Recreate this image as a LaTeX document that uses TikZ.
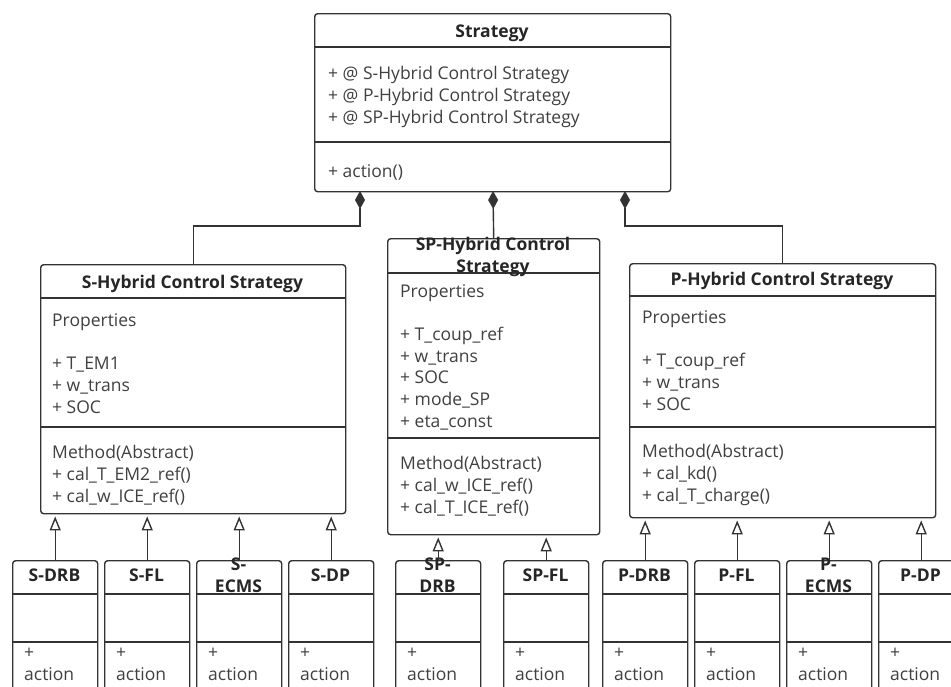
\documentclass[tikz,border=0pt]{standalone}
\usepackage{fontspec}
\setmainfont{Open Sans}
\usetikzlibrary{arrows.meta}
\definecolor{umlline}{HTML}{333333}
\definecolor{umlhead}{HTML}{262626}
\definecolor{umltext}{HTML}{404040}

\begin{document}
\begin{tikzpicture}[x=1pt,y=-1pt,
  box/.style={draw=umlline,line width=1.4pt,rounded corners=3pt,fill=white,anchor=north west,inner sep=0pt},
  part/.style={draw=umlline,line width=1.4pt},
  head/.style={font=\fontsize{17.5}{22}\selectfont\bfseries,text=umlhead,anchor=base,inner sep=0pt},
  attr/.style={font=\fontsize{17.5}{22}\selectfont,text=umltext,anchor=base west,inner sep=0pt},
  comp/.style={draw=umlline,line width=1.4pt,{Diamond[length=18pt,width=10pt]}-},
  gen/.style={draw=umlline,line width=1.4pt,-{Triangle[open,length=14pt,width=11pt]},shorten >=2pt}]
\useasboundingbox (0,0) rectangle (951,686);
\clip (0,0) rectangle (951,686);

% parent class
\node[box,minimum width=356pt,minimum height=178pt] (strategy) at (314,13) {};
\draw[part] (314,47) -- (670,47);
\draw[part] (314,142) -- (670,142);
\node[head] (st-title) at (492,37) {Strategy};
\foreach \t [count=\i from 0] in {+ @ S-Hybrid Control Strategy,
    + @ P-Hybrid Control Strategy, + @ SP-Hybrid Control Strategy}
  \node[attr] (st-a\i) at (328,{79+22*\i}) {\t};
\node[attr] (st-m) at (328,177) {+ action()};

% strategy families
\node[box,minimum width=305pt,minimum height=249pt] (shyb) at (40,264) {};
\draw[part] (40,298) -- (345,298);
\draw[part] (40,427) -- (345,427);
\node[head] (s-title) at (192.5,288) {S-Hybrid Control Strategy};
\foreach \y/\t [count=\i] in {326/Properties, 369/+ T\_EM1, 391/+ w\_trans, 413/+ SOC,
    458/Method(Abstract), 480/+ cal\_T\_EM2\_ref(), 502/+ cal\_w\_ICE\_ref()}
  \node[attr] (s-\i) at (52,\y) {\t};

\node[box,minimum width=212pt,minimum height=296pt] (sphyb) at (387,238) {};
\draw[part] (387,273) -- (599,273);
\draw[part] (387,438) -- (599,438);
\node[head,anchor=center,align=center] (sp-title) at (493,257) {SP-Hybrid Control\\Strategy};
\foreach \y/\t [count=\i] in {297/Properties, 340/+ T\_coup\_ref, 362/+ w\_trans, 383/+ SOC,
    405/+ mode\_SP, 427/+ eta\_const, 469/Method(Abstract), 491/+ cal\_w\_ICE\_ref(),
    513/+ cal\_T\_ICE\_ref()}
  \node[attr] (sp-\i) at (400,\y) {\t};

\node[box,minimum width=306pt,minimum height=254pt] (phyb) at (629,263) {};
\draw[part] (629,296) -- (935,296);
\draw[part] (629,427) -- (935,427);
\node[head] (p-title) at (782,285) {P-Hybrid Control Strategy};
\foreach \y/\t [count=\i] in {323/Properties, 366/+ T\_coup\_ref, 388/+ w\_trans, 410/+ SOC,
    457/Method(Abstract), 479/+ cal\_kd(), 501/+ cal\_T\_charge()}
  \node[attr] (p-\i) at (642,\y) {\t};

% composition
\coordinate (dl) at (360,191);
\coordinate (dm) at (493,191);
\coordinate (dr) at (625,191);
\draw[comp] (dl) -- ++(0,35) -| (shyb.north);
\draw[comp] (dm) -- (sphyb.north);
\draw[comp] (dr) -- ++(0,35) -| (phyb.north);

% concrete strategies
\foreach \x/\n/\t/\p in {12/sdrb/S-DRB/shyb, 104/sfl/S-FL/shyb, 196/secms/S-\\ECMS/shyb,
    288/sdp/S-DP/shyb, 395/spdrb/SP-\\DRB/sphyb, 503/spfl/SP-FL/sphyb,
    602/pdrb/P-DRB/phyb, 694/pfl/P-FL/phyb, 786/pecms/P-\\ECMS/phyb, 878/pdp/P-DP/phyb} {
  \node[box,minimum width=85pt,minimum height=200pt] (\n) at (\x,560) {};
  \draw[part] (\x,594) -- ++(85,0);
  \draw[part] (\x,642) -- ++(85,0);
  \node[head,anchor=center,align=center] (\n-title) at ({\x+42.5},575.5) {\t};
  \node[attr] (\n-plus) at ({\x+12},658) {+};
  \node[attr] (\n-act) at ({\x+12},680) {action};
  \draw[gen] (\n.north) -- (\n.north |- \p.south);
}
\end{tikzpicture}
\end{document}
